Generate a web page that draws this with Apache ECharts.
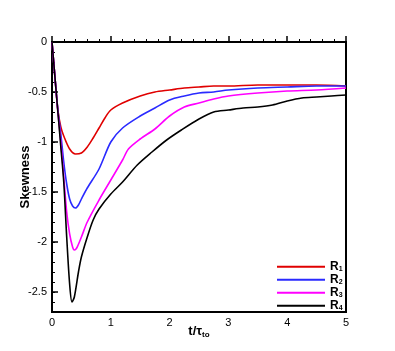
<!DOCTYPE html>
<html>
<head>
<meta charset="utf-8">
<style>
  html, body { margin: 0; padding: 0; background: #fff; }
  #chart { width: 395px; height: 351px; }
</style>
<script src="https://cdn.jsdelivr.net/npm/echarts@6/dist/echarts.min.js"></script>
</head>
<body>
<div id="chart"></div>
<script>
  // skewness vs t/tau_to
  const seriesNames = ['R1', 'R2', 'R3', 'R4']
  const colors = ['#e00000', '#2a2aff', '#ff00ff', '#000000']

  const r1 = [[0, 0], [0.05, -0.35], [0.1, -0.68], [0.15, -0.85], [0.2, -0.94], [0.3, -1.07], [0.4, -1.12],
    [0.5, -1.11], [0.6, -1.05], [0.7, -0.96], [0.8, -0.86], [0.9, -0.76], [1.0, -0.68], [1.2, -0.61],
    [1.5, -0.54], [1.75, -0.5], [2, -0.48], [2.25, -0.46], [2.5, -0.45], [2.75, -0.44], [3, -0.44],
    [3.5, -0.43], [4, -0.43], [4.5, -0.43], [5, -0.44]]
  const r2 = [[0, 0], [0.05, -0.35], [0.1, -0.68], [0.15, -0.92], [0.2, -1.2], [0.25, -1.42], [0.3, -1.57],
    [0.35, -1.64], [0.4, -1.66], [0.45, -1.63], [0.5, -1.57], [0.6, -1.46], [0.8, -1.27], [1.0, -1.0],
    [1.2, -0.86], [1.5, -0.74], [1.75, -0.66], [2, -0.58], [2.25, -0.54], [2.5, -0.51], [2.75, -0.5],
    [3, -0.48], [3.5, -0.46], [4, -0.45], [4.5, -0.44], [5, -0.44]]
  const r3 = [[0, 0], [0.05, -0.35], [0.1, -0.7], [0.15, -1.0], [0.2, -1.35], [0.25, -1.7], [0.3, -1.92],
    [0.35, -2.05], [0.38, -2.08], [0.42, -2.06], [0.5, -1.95], [0.6, -1.8], [0.8, -1.58], [1.0, -1.38],
    [1.2, -1.18], [1.3, -1.07], [1.5, -0.97], [1.75, -0.87], [2, -0.74], [2.25, -0.65], [2.5, -0.61],
    [2.75, -0.57], [3, -0.54], [3.5, -0.51], [4, -0.49], [4.5, -0.48], [5, -0.46]]
  const r4 = [[0, 0], [0.05, -0.35], [0.1, -0.7], [0.15, -1.05], [0.2, -1.4], [0.25, -1.95], [0.3, -2.42],
    [0.34, -2.6], [0.38, -2.55], [0.45, -2.3], [0.5, -2.15], [0.6, -1.95], [0.7, -1.78], [0.8, -1.67],
    [1.0, -1.52], [1.2, -1.4], [1.45, -1.23], [1.7, -1.1], [1.95, -0.98], [2.2, -0.88], [2.5, -0.77],
    [2.75, -0.7], [3, -0.68], [3.25, -0.66], [3.5, -0.65], [3.75, -0.63], [4, -0.59], [4.25, -0.56],
    [4.5, -0.55], [4.75, -0.54], [5, -0.53]]
  const seriesData = [r1, r2, r3, r4]

  const yMajor = [0, -0.5, -1, -1.5, -2, -2.5]
  const yMinor = []
  for (let i = 0; i <= 27; i++) yMinor.push(-i / 10)

  const font = '"Liberation Sans", Arial, sans-serif'
  const chart = echarts.init(document.getElementById('chart'))

  const option = {
    animation: false,
    grid: {
      left: 52, right: 49, top: 42, bottom: 39,
      outerBoundsMode: 'none',
      containLabel: false,
      show: true, borderColor: '#000', borderWidth: 2, backgroundColor: 'transparent'
    },
    xAxis: {
      type: 'value',
      min: 0, max: 5, interval: 1,
      name: '{b|t/τ}{s|to}',
      nameLocation: 'middle',
      nameGap: 11,
      nameMoveOverlap: false,
      nameTextStyle: {
        rich: {
          b: { fontFamily: font, fontSize: 13, fontWeight: 'bold', color: '#000' },
          s: { fontFamily: font, fontSize: 8, fontWeight: 'bold', color: '#000', verticalAlign: 'bottom', padding: [8, 0, 0, 0] }
        }
      },
      axisLine: { lineStyle: { color: '#000', width: 2 } },
      axisTick: { inside: true, length: 6, lineStyle: { color: '#000', width: 1.5 } },
      minorTick: { show: true, splitNumber: 5, length: 3, lineStyle: { color: '#000', width: 1 } },
      axisLabel: { fontFamily: font, fontSize: 11, color: '#000', margin: 5 },
      splitLine: { show: false }
    },
    yAxis: [{
      type: 'value',
      min: -2.7, max: 0,
      name: 'Skewness',
      nameLocation: 'middle',
      nameGap: 20,
      nameMoveOverlap: false,
      nameTextStyle: { fontFamily: font, fontSize: 13, fontWeight: 'bold', color: '#000' },
      axisLine: { lineStyle: { color: '#000', width: 2 } },
      axisTick: { inside: true, length: 6, customValues: yMajor, lineStyle: { color: '#000', width: 1.5 } },
      axisLabel: { fontFamily: font, fontSize: 11, color: '#000', margin: 5, customValues: yMajor },
      splitLine: { show: false }
    }, {
      type: 'value',
      min: -2.7, max: 0,
      position: 'left',
      axisLine: { show: false },
      axisTick: { inside: true, length: 3, customValues: yMinor, lineStyle: { color: '#000', width: 1 } },
      axisLabel: { show: false },
      splitLine: { show: false }
    }],
    legend: {
      orient: 'vertical',
      left: 272, top: 255,
      icon: 'rect',
      itemWidth: 48, itemHeight: 2, itemGap: 0,
      data: seriesNames,
      formatter: name => '{b|R}{s|' + name.slice(1) + '}',
      textStyle: {
        rich: {
          b: { fontFamily: font, fontSize: 12, fontWeight: 'bold', color: '#000', lineHeight: 12.3 },
          s: { fontFamily: font, fontSize: 7, fontWeight: 'bold', color: '#000', verticalAlign: 'bottom', lineHeight: 12.3, padding: [6, 0, 0, 0] }
        }
      }
    },
    series: seriesNames.map((name, i) => ({
      name: name,
      type: 'line',
      smooth: 0.3,
      symbol: 'none',
      data: seriesData[i],
      lineStyle: { color: colors[i], width: 1.6 },
      itemStyle: { color: colors[i] }
    }))
  }
  chart.setOption(option)
</script>
</body>
</html>
